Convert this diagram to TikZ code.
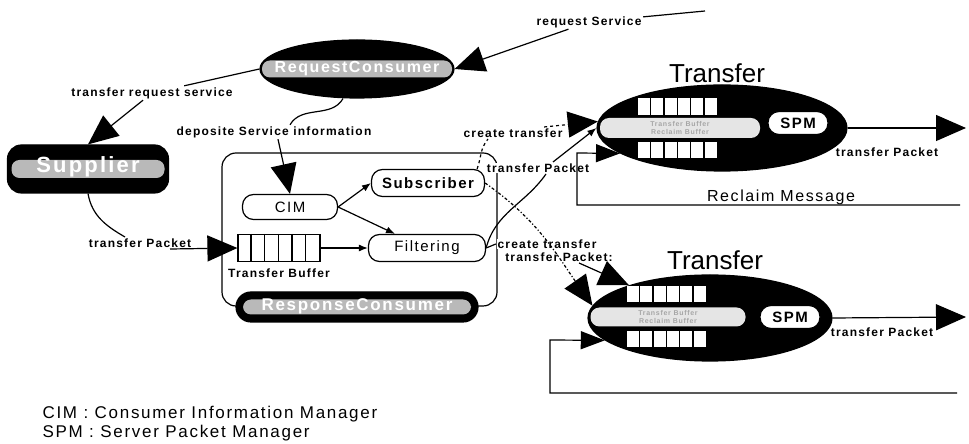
\documentclass[tikz,border=0pt]{standalone}
\usepackage{fontspec}
\setmainfont{Liberation Sans}
\newfontfamily\widesans[LetterSpace=10]{Liberation Sans}
\usepackage{tikz}
\usetikzlibrary{shapes.geometric,arrows.meta,positioning}
\newcommand\lblfont{\widesans\bfseries\fontsize{12}{13}\selectfont}
\newcommand\procfont{\widesans\fontsize{15}{17}\selectfont}
\newcommand\bandfont{\widesans\bfseries\fontsize{16}{18}\selectfont}
\newcommand\ttlfont{\fontsize{26}{30}\selectfont}
\newcommand\rclfont{\widesans\fontsize{16}{18}\selectfont}
\newcommand\legfont{\widesans\fontsize{17}{19}\selectfont}
\newcommand\tinyfont{\widesans\bfseries\fontsize{7}{8}\selectfont}
\tikzset{
darkell/.style = {draw, fill=black, ellipse, inner sep=0pt},
darkbox/.style = {draw, fill=black, rectangle, rounded corners=14pt, inner sep=0pt},
band/.style = {fill=gray!55, rounded corners=8pt, text=white, inner sep=0pt, font=\bandfont, text height=10pt, text depth=2pt},
proc/.style = {draw, fill=white, rectangle, rounded corners=11pt, inner sep=0pt, font=\procfont},
lbl/.style = {fill=white, inner sep=1pt, font=\lblfont},
cell/.style = {fill=white, rectangle, minimum width=12pt, minimum height=16pt, inner sep=0pt},
spm/.style = {draw, fill=white, rectangle, rounded corners=11pt, minimum width=60pt, minimum height=23pt, inner sep=0pt, font=\procfont\bfseries},
bigtip/.style = {-{Triangle[length=30pt,width=26pt]}},
spiketip/.style = {-{Triangle[length=24pt,width=18pt]}}
}
\begin{document}
\begin{tikzpicture}[x=1pt, y=1pt, node distance=2cm, >={Latex[length=9pt,width=7pt]}, line width=1.2pt]
    \useasboundingbox (0,0) rectangle (969,444);
    % frame of the response consumer
    \node [draw, rectangle, rounded corners=14pt, minimum width=275pt, minimum height=153pt] (resbox) at (359.5,214.5) {};

    % dark nodes
    \node [darkell, minimum width=194pt, minimum height=58pt] (reqc) at (357,375) {};
    \node [band, minimum width=190pt, minimum height=17pt] (reqcb) at (reqc) {RequestConsumer};
    \node [darkbox, minimum width=161pt, minimum height=48pt] (supp) at (88,275) {};
    \node [band, minimum width=153pt, minimum height=18pt, font=\widesans\bfseries\fontsize{22}{24}\selectfont] (suppb) at (supp) {Supplier};
    \node [darkbox, rounded corners=15pt, minimum width=242pt, minimum height=30pt] (resc) at (357,137) {};
    \node [band, minimum width=228pt, minimum height=15pt, font=\widesans\bfseries\fontsize{17}{19}\selectfont] (rescb) at (resc) {ResponseConsumer};

    % transfers
    \node [darkell, minimum width=250pt, minimum height=86pt] (tr1) at (722,316) {};
    \node [darkell, minimum width=244pt, minimum height=86pt] (tr2) at (710,126) {};
    \node [font=\ttlfont, above of=tr1, node distance=55pt, xshift=-5pt] (tr1t) {Transfer};
    \node [font=\ttlfont, above of=tr2, node distance=58pt, xshift=5pt] (tr2t) {Transfer};
    \node [left of=tr1, node distance=42pt, fill=gray!20, rounded corners=9pt, minimum width=160pt, minimum height=20pt, inner sep=0pt, text=gray!70, font=\tinyfont, align=center] (tr1b) {Transfer Buffer\\Reclaim Buffer};
    \node [left of=tr2, node distance=42pt, yshift=1pt, fill=gray!20, rounded corners=9pt, minimum width=155pt, minimum height=19pt, inner sep=0pt, text=gray!70, font=\tinyfont, align=center] (tr2b) {Transfer Buffer\\Reclaim Buffer};
    \node [spm, right of=tr1, node distance=76pt, yshift=5pt] (spm1) {SPM};
    \node [spm, right of=tr2, node distance=80pt, yshift=1pt] (spm2) {SPM};
    \foreach \i in {0,...,5} {
        \node [cell, minimum height=17pt] (tr1u\i) at ([xshift=-78pt+\i*13.3pt, yshift=21.5pt]tr1.center) {};
        \node [cell] (tr1d\i) at ([xshift=-78pt+\i*13.3pt, yshift=-22pt]tr1.center) {};
        \node [cell] (tr2u\i) at ([xshift=-77pt+\i*13.3pt, yshift=23.5pt]tr2.center) {};
        \node [cell] (tr2d\i) at ([xshift=-77pt+\i*13.3pt, yshift=-21.5pt]tr2.center) {};
    }

    % inside the frame
    \node [proc, minimum width=95pt, minimum height=25pt] (cim) at (290,237) {CIM};
    \node [proc, minimum width=113pt, minimum height=27pt, font=\procfont\bfseries] (subs) at (428,261) {Subscriber};
    \node [proc, minimum width=117pt, minimum height=27pt] (filt) at (427,196) {Filtering};
    \node [draw, rectangle, fill=white, minimum width=82pt, minimum height=27pt, inner sep=0pt] (tbuf) at (279,196) {};
    \foreach \i in {1,...,5}
        \draw ([xshift=\i*13.67pt]tbuf.north west) -- ([xshift=\i*13.67pt]tbuf.south west);
    \node [lbl, below of=tbuf, node distance=25pt] (tbufl) {Transfer Buffer};

    % labels
    \node [lbl] (reql) at (589,422) {request Service};
    \node [lbl] (trsl) at (152,351) {transfer request service};
    \node [lbl] (depl) at (274,312) {deposite Service information};
    \node [lbl] (tpl1) at (140,201) {transfer Packet};
    \node [lbl] (ctl1) at (513,311) {create transfer};
    \node [lbl] (tpl2) at (538,276) {transfer Packet};
    \node [lbl] (ctl2) at (547,200) {create transfer};
    \node [lbl] (tpl3) at (559,187) {transfer Packet:};
    \node [lbl] (tpo1) at (887,292) {transfer Packet};
    \node [lbl] (tpo2) at (882,112) {transfer Packet};
    \node [font=\rclfont] (rclm) at (781,247) {Reclaim Message};

    \coordinate (reqsrc) at (705,433);
    \coordinate (out1) at (966,316);
    \coordinate (out2) at (966,127);
    \coordinate (rcl1) at (960,239);
    \coordinate (rcl1t) at (577,291);
    \coordinate (rcl2) at (957,51);
    \coordinate (rcl2t) at (550,104);

    % connectors
    \draw (reqsrc) -- (reql);
    \draw [bigtip] (reql) -- (reqc.east);
    \draw (reqc.west) -- (trsl);
    \draw [bigtip] (trsl) -- (supp.north);
    \draw ([xshift=-14pt]reqc.south) to[out=-120, in=60] ([xshift=16pt]depl.north);
    \draw [bigtip] ([xshift=4pt]depl.south) -- (cim.north);
    \draw (supp.south) to[out=-80, in=150] ([xshift=-15pt]tpl1.north);
    \draw [bigtip] ([xshift=30pt]tpl1.south) -- (tbuf.west);
    \draw [->] (cim.east) -- (subs.west);
    \draw [->] (cim.east) -- ([xshift=-32pt]filt.north);
    \draw [->] (tbuf.east) -- (filt.west);
    \draw [dashed] ([xshift=-8pt]subs.north east) to[out=70, in=-130] ([xshift=-25pt]ctl1.south);
    \draw [dashed, bigtip] ([xshift=-20pt]ctl1.north east) -- (tr1.177);
    \draw (filt.east) to[out=75, in=-125] ([xshift=8pt]tpl2.south);
    \draw [->] ([xshift=15pt]tpl2.north) -- (tr1.west);
    \draw (filt.east) -- (ctl2.west);
    \draw [bigtip] ([xshift=20pt]tpl3.south) -- (tr2.158);
    \draw [dash dot, bigtip] (subs.east) to[out=-35, in=125] (tr2.174);
    \draw [bigtip] (tr1.east) -- (out1);
    \draw [bigtip] (tr2.east) -- (out2);
    \draw [spiketip] (rcl1) -| (rcl1t) -- (tr1.194);
    \draw [spiketip] (rcl2) -| (rcl2t) -- (tr2.192);

    % legend
    \node [font=\legfont, anchor=west, inner sep=0pt] (leg1) at (42,30) {CIM : Consumer Information Manager};
    \node [font=\legfont, anchor=west, inner sep=0pt] (leg2) at (42,11) {SPM : Server Packet Manager};
\end{tikzpicture}
\end{document}
